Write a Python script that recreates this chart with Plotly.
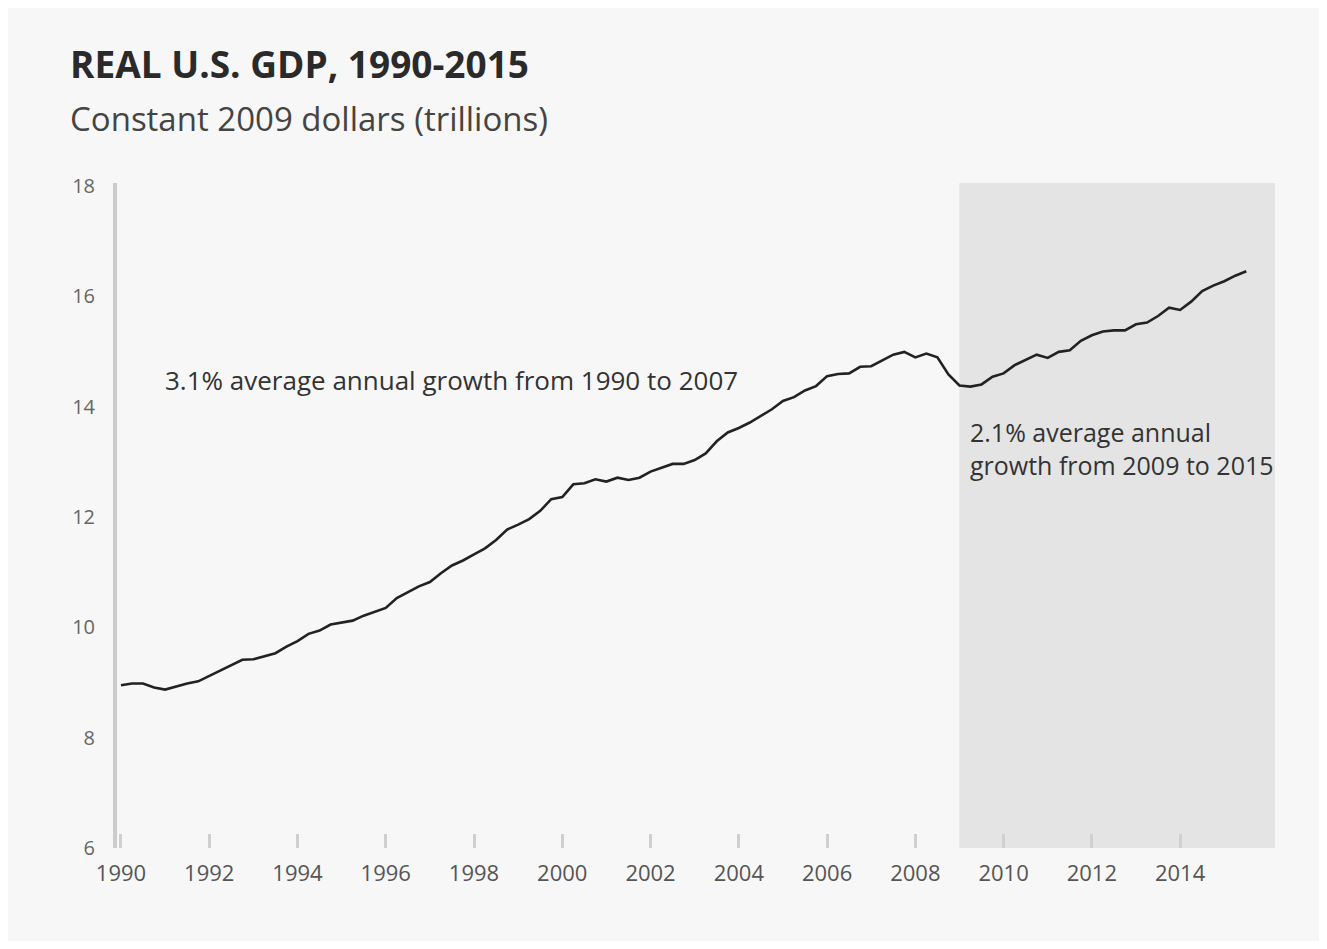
import plotly.graph_objects as go

# Quarterly real GDP, constant 2009 dollars (trillions)
quarters = [1990 + i * 0.25 for i in range(103)]  # 1990Q1 .. 2015Q3
gdp = [
    8.95, 8.98, 8.98, 8.91,   # 1990
    8.87, 8.93, 8.98, 9.02,   # 1991
    9.12, 9.22, 9.31, 9.41,   # 1992
    9.42, 9.48, 9.53, 9.65,   # 1993
    9.75, 9.88, 9.94, 10.05,  # 1994
    10.09, 10.12, 10.21, 10.28,  # 1995
    10.35, 10.53, 10.63, 10.74,  # 1996
    10.82, 10.98, 11.12, 11.21,  # 1997
    11.32, 11.43, 11.58, 11.77,  # 1998
    11.86, 11.96, 12.11, 12.32,  # 1999
    12.36, 12.59, 12.61, 12.68,  # 2000
    12.64, 12.71, 12.67, 12.71,  # 2001
    12.82, 12.89, 12.96, 12.96,  # 2002
    13.03, 13.15, 13.37, 13.53,  # 2003
    13.61, 13.71, 13.83, 13.95,  # 2004
    14.10, 14.17, 14.29, 14.37,  # 2005
    14.55, 14.59, 14.60, 14.72,  # 2006
    14.73, 14.84, 14.94, 14.99,  # 2007
    14.89, 14.96, 14.89, 14.58,  # 2008
    14.38, 14.36, 14.40, 14.54,  # 2009
    14.60, 14.75, 14.85, 14.94,  # 2010
    14.88, 14.99, 15.02, 15.19,  # 2011
    15.29, 15.36, 15.38, 15.38,  # 2012
    15.49, 15.52, 15.64, 15.79,  # 2013
    15.75, 15.90, 16.09, 16.19,  # 2014
    16.27, 16.37, 16.45,         # 2015
]

x_ticks = list(range(1990, 2015, 2))
x_tick_labels = [str(y) for y in x_ticks]
y_ticks = [6, 8, 10, 12, 14, 16, 18]
y_tick_labels = [str(v) for v in y_ticks]

recovery_start = 2009.0
recovery_end = 2016.15

title_text = "REAL U.S. GDP, 1990-2015"
subtitle_text = "Constant 2009 dollars (trillions)"
note_1 = "3.1% average annual growth from 1990 to 2007"
note_2 = "2.1% average annual<br>growth from 2009 to 2015"

fig = go.Figure()

fig.add_shape(type="rect", xref="x", yref="paper",
              x0=recovery_start, x1=recovery_end, y0=0, y1=1,
              fillcolor="#e4e4e4", line_width=0, layer="below")

fig.add_trace(go.Scatter(x=quarters, y=gdp, mode="lines",
                         line=dict(color="#222222", width=2.6),
                         hoverinfo="skip", showlegend=False))

font_main = "Open Sans"

fig.add_annotation(text="<b>" + title_text + "</b>", xref="paper", yref="paper",
                   x=-0.0423, y=1.18, xanchor="left", yanchor="middle",
                   showarrow=False, font=dict(family=font_main, size=37, color="#2a2a2a"))
fig.add_annotation(text=subtitle_text, xref="paper", yref="paper",
                   x=-0.0423, y=1.097, xanchor="left", yanchor="middle",
                   showarrow=False, font=dict(family=font_main, size=33, color="#444444"))
fig.add_annotation(text=note_1, xref="x", yref="y",
                   x=1990.95, y=14.48, xanchor="left", yanchor="middle",
                   showarrow=False, font=dict(family=font_main, size=26, color="#333333"))
fig.add_annotation(text=note_2, xref="x", yref="y",
                   x=2009.2, y=13.24, xanchor="left", yanchor="middle", align="left",
                   showarrow=False, font=dict(family=font_main, size=25, color="#333333"))

fig.update_layout(
    width=1311, height=933,
    margin=dict(l=109, r=44, t=175, b=93),
    paper_bgcolor="#f7f7f7", plot_bgcolor="#f7f7f7",
    xaxis=dict(range=[1989.91, recovery_end], tickmode="array",
               tickvals=x_ticks, ticktext=x_tick_labels,
               showgrid=False, zeroline=False, showline=False,
               ticks="inside", ticklen=14, tickwidth=3, tickcolor="#d0d0d0",
               ticklabelstandoff=10,
               tickfont=dict(family=font_main, size=22, color="#555555")),
    yaxis=dict(range=[6, 18.05], tickmode="array",
               tickvals=y_ticks, ticktext=y_tick_labels,
               showgrid=False, zeroline=False,
               showline=True, linecolor="#cccccc", linewidth=4,
               ticks="", ticklabelstandoff=14,
               tickfont=dict(family=font_main, size=20, color="#666666")),
)

fig.write_html("out.html")
